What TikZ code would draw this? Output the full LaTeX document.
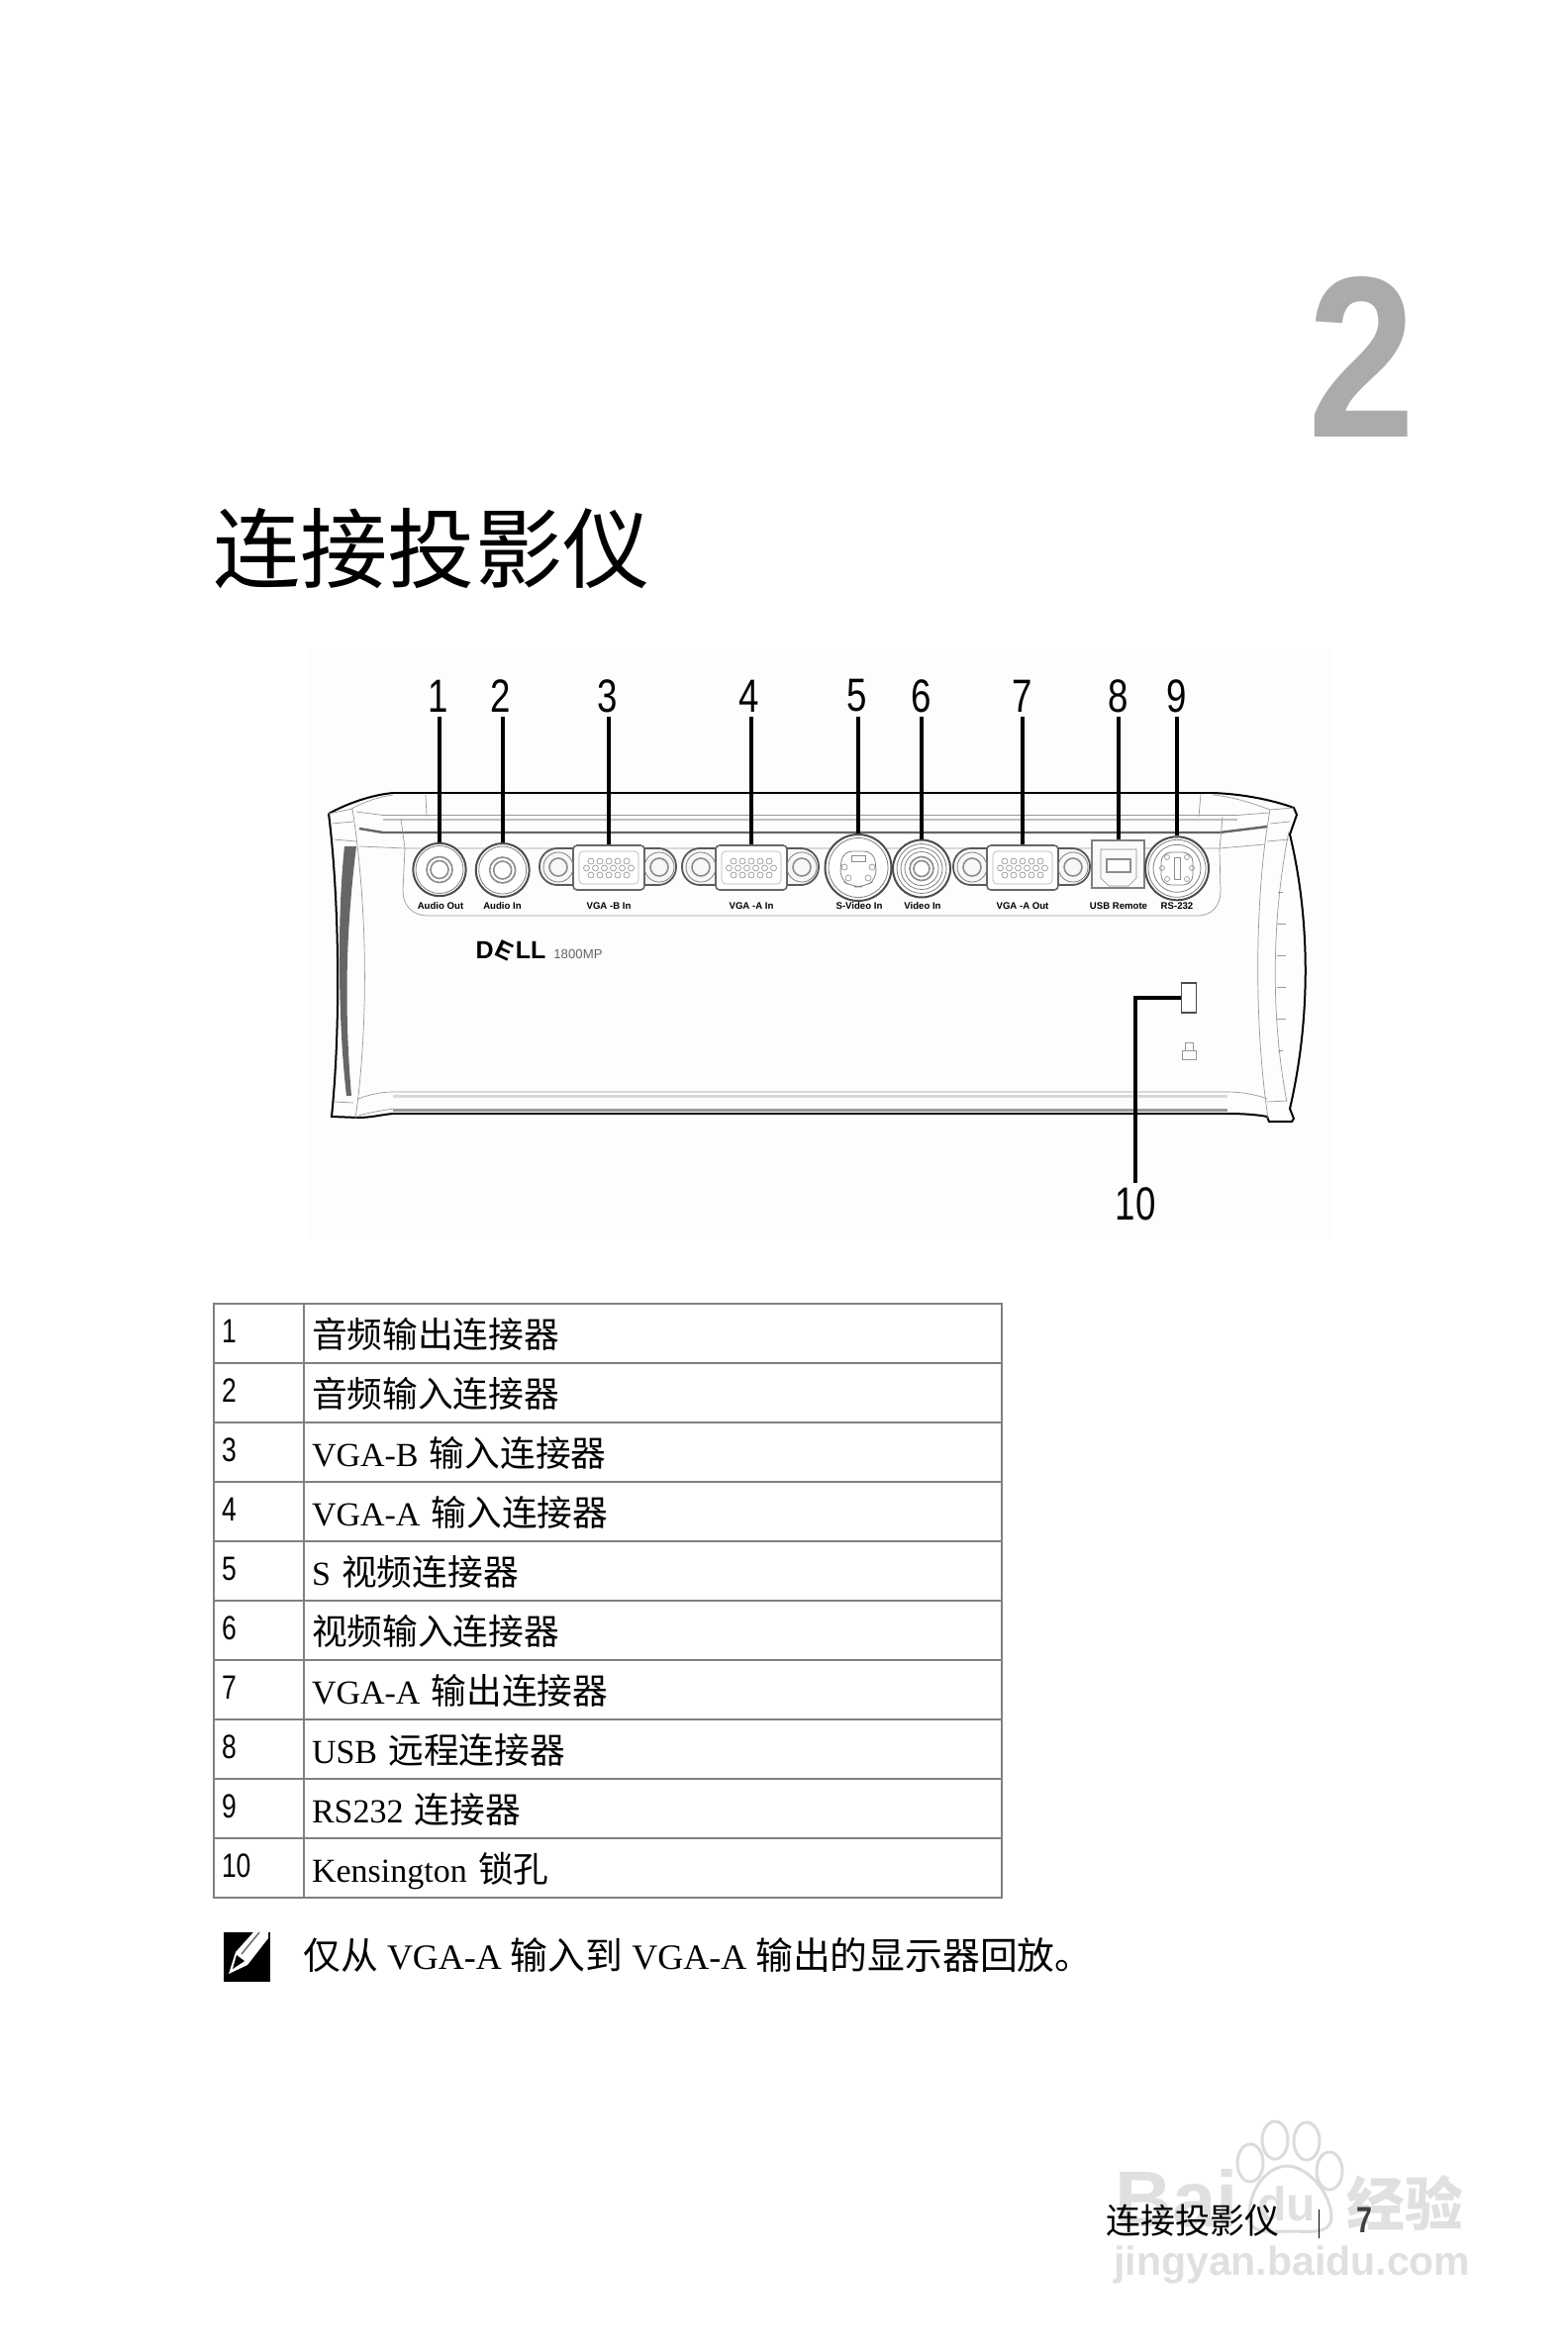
\documentclass[tikz,border=0pt]{standalone}
\usepackage{fontspec}
\usepackage{xcolor}
\usepackage{tikz}
\usetikzlibrary{positioning}
\setmainfont{Liberation Serif}
\setsansfont{Liberation Sans}
\newfontfamily\cjkfont[Scale=1.05]{Noto Sans CJK SC}
\newfontfamily\numfont[FakeStretch=0.78]{Liberation Sans}
\newfontfamily\chapfont[FakeStretch=0.84]{Liberation Sans}
\newcommand{\zh}[1]{{\cjkfont #1}}
\tikzset{
    num_label/.style = {inner sep=2pt, font=\numfont\fontsize{23.5}{26}\selectfont},
    port_text/.style = {inner sep=0pt, font=\sffamily\bfseries\fontsize{4.8}{5}\selectfont},
    leader/.style = {draw=black, line width=2pt},
    round_port/.style = {circle, draw=black!70, line width=1pt, fill=white, inner sep=0pt},
    ring/.style = {draw=black!50, line width=0.4pt},
    heavy_ring/.style = {draw=black!45, line width=0.8pt},
    pin/.style = {draw=black!45, line width=0.3pt},
    shell/.style = {draw=black, line width=0.6pt},
    heavy_shell/.style = {draw=black, line width=1pt},
    trim/.style = {draw=black!40, line width=0.35pt},
    flange/.style = {draw=black!65, line width=0.9pt, rounded corners=9pt, fill=black!3},
    vga_body/.style = {draw=black!60, line width=0.8pt, rounded corners=2pt, fill=white, minimum width=36pt, minimum height=22.5pt, inner sep=0pt},
    num_cell/.style = {draw=black!50, line width=1pt, outer sep=0pt, anchor=north west, minimum width=45.5pt, minimum height=30pt, text width=37.5pt, inner xsep=4pt, inner ysep=0pt, align=left, text height=10.5pt, text depth=0.7pt, font=\numfont\fontsize{17}{20}\selectfont},
    text_cell/.style = {draw=black!50, line width=1pt, outer sep=0pt, anchor=north west, minimum width=352.5pt, minimum height=30pt, text width=344.5pt, inner xsep=4pt, inner ysep=0pt, align=left, text height=15pt, text depth=0.5pt, font=\fontsize{17}{20}\selectfont},
    mark_text/.style = {inner sep=0pt, text=black!12, font=\sffamily\bfseries},
    mark_line/.style = {draw=black!14, line width=1.5pt}
}
\newcommand{\vgaport}[2]{%
    \draw[flange] (#2-70,857) rectangle (#2+68,894);
    \node[vga_body] (#1) at (#2,876.5) {};
    \draw[draw=black!30, line width=0.3pt, rounded corners=2pt] (#2-30,860) rectangle (#2+30,893);
    \draw[ring] (#2-51,876) circle (15);
    \draw[heavy_ring] (#2-51,876) circle (9);
    \draw[ring] (#2+51,876) circle (15);
    \draw[heavy_ring] (#2+51,876) circle (9);
    \foreach \px in {-18,-9,0,9,18} {
        \draw[pin] (#2+\px,870) circle (3);
        \draw[pin] (#2+\px,884) circle (3);
    }
    \foreach \px in {-22.5,-13.5,-4.5,4.5,13.5,22.5} {
        \draw[pin] (#2+\px,877) circle (3);
    }
}
\begin{document}
\begin{tikzpicture}[x=0.5pt, y=-0.5pt]
    \useasboundingbox (0,0) rectangle (1584,2376);
    \fill[black!0.6] (310,655) rectangle (1345,1252);

    % heading
    \node[inner sep=0pt, text=black!33, font=\chapfont\bfseries\fontsize{116}{120}\selectfont] (chapter) at (1376,361) {2};
    \node[inner sep=0pt, anchor=west, font=\cjkfont\fontsize{42}{48}\selectfont] (title) at (215,554) {连接投影仪};

    % projector body
    \draw[shell] (397,801) -- (1225,801);
    \draw[heavy_shell] (332,822) .. controls (350,812) and (375,803) .. (397,801);
    \draw[heavy_shell] (1225,801) .. controls (1255,802) and (1285,808) .. (1307,816) -- (1310,823) -- (1303,843)
        .. controls (1324,930) and (1324,1030) .. (1303,1120) -- (1307,1130) -- (1305,1133) -- (1282,1133) -- (1280,1128)
        .. controls (1270,1126) and (1255,1125) .. (1240,1125);
    \draw[shell] (1240,1125) -- (397,1125);
    \draw[heavy_shell] (397,1125) .. controls (385,1126) and (375,1129) .. (362,1129) -- (335,1128)
        .. controls (345,1030) and (342,900) .. (332,822);
    \fill[black!60] (348,855) -- (360,855) .. controls (352,920) and (346,1000) .. (355,1107) -- (350,1107)
        .. controls (342,1040) and (340,930) .. (348,855);
    \draw[trim] (356,817) .. controls (372,920) and (372,1040) .. (359,1130);
    \draw[trim] (1283,818) .. controls (1268,900) and (1266,1030) .. (1281,1130);
    \draw[trim] (1302,840) .. controls (1284,930) and (1284,1030) .. (1300,1113);
    % corners
    \draw[trim] (332,822) -- (356,817);
    \draw[trim] (335,832) -- (357,830);
    \draw[trim] (337,848) -- (360,850);
    \draw[trim] (337,1113) -- (357,1114);
    \draw[trim] (1283,818) -- (1307,816);
    \draw[trim] (1283,832) -- (1303,830);
    \draw[trim] (1280,850) -- (1302,848);
    \draw[trim] (1280,1113) -- (1300,1112);
    \draw[trim] (355,817) .. controls (368,810) and (382,805) .. (397,803);
    \draw[trim] (1225,803) .. controls (1245,805) and (1265,811) .. (1283,818);
    % long lines
    \draw[trim] (360,820) -- (387,823.5) -- (1250,823.5) -- (1282,821);
    \draw[draw=black!25, line width=1pt] (387,828) -- (1250,828);
    \draw[draw=black!60, line width=1.2pt] (363,837) -- (387,841) -- (1232,841) -- (1280,835);
    \draw[trim] (363,855) -- (409,857) -- (1232,857) -- (1277,853);
    \draw[draw=black!40, line width=1.5pt] (397,1121.5) -- (1240,1121.5);
    \draw[trim] (362,1110) .. controls (372,1106) and (385,1103) .. (397,1103) -- (1240,1103) .. controls (1255,1103) and (1270,1106) .. (1280,1110);
    \draw[draw=black!15, line width=1.5pt] (397,1107) -- (1240,1107);
    \draw[trim] (362,1127) .. controls (372,1124) and (385,1122) .. (397,1120);
    \draw[trim] (430,803) -- (431,825);
    \draw[trim] (1213,802) -- (1211,825);
    % recess
    \draw[trim] (405,827) -- (409,857) -- (407,900) .. controls (407,915) and (417,925) .. (432,925) -- (1210,925)
        .. controls (1224,925) and (1233,915) .. (1233,900) -- (1232,858) -- (1235,825);
    % side ticks
    \draw[trim] (1291,901) -- (1296,901);
    \draw[trim] (1290,933) -- (1299,933);
    \draw[trim] (1290,965) -- (1299,965);
    \draw[trim] (1290,997) -- (1299,997);
    \draw[trim] (1290,1029) -- (1299,1029);
    \draw[trim] (1291,1061) -- (1296,1061);

    % ports
    \node[round_port, minimum size=26.7pt] (p1) at (444,878.5) {};
    \draw[ring] (p1) circle (24);
    \draw[heavy_ring] (p1) circle (13) (p1) circle (9);
    \node[round_port, minimum size=27pt] (p2) at (507.7,879) {};
    \draw[ring] (p2) circle (24);
    \draw[heavy_ring] (p2) circle (13) (p2) circle (9);
    \vgaport{p3}{615}
    \vgaport{p4}{759}
    \node[round_port, minimum size=33.5pt] (p5) at (867,876.5) {};
    \draw[ring] (p5) circle (30);
    \draw[ring, rounded corners=5pt] (851,860) -- (883,860) -- (886,888) -- (873,896) -- (861,896) -- (848,888) -- cycle;
    \draw[pin] (860,864) rectangle (874,870);
    \draw[pin] (853,876) circle (3) (881,876) circle (3) (857,887) circle (3) (877,887) circle (3);
    \node[round_port, minimum size=29pt] (p6) at (931,877.5) {};
    \draw[ring] (p6) circle (25) (p6) circle (21) (p6) circle (17);
    \draw[heavy_ring] (p6) circle (12) (p6) circle (8);
    \vgaport{p7}{1033}
    \node[draw=black!50, line width=1pt, fill=black!2, inner sep=0pt, minimum width=26.3pt, minimum height=24pt] (p8) at (1129.5,873.3) {};
    \draw[pin] (1112,858) -- (1148,858) -- (1148,887) -- (1140,895) -- (1120,895) -- (1112,887) -- cycle;
    \draw[heavy_ring, fill=white] (1118,868) rectangle (1142,881);
    \node[round_port, minimum size=32pt] (p9) at (1189,877.3) {};
    \draw[ring] (p9) circle (29) (p9) circle (24);
    \draw[ring, rounded corners=5pt] (1173,861) rectangle (1205,894);
    \draw[pin] (1186,866) rectangle (1192,888);
    \draw[pin] (1179,866) circle (2.5) (1199,866) circle (2.5) (1174,877) circle (2.5) (1204,877) circle (2.5) (1179,888) circle (2.5) (1199,888) circle (2.5);

    % port captions
    \node[port_text] (t1) at (445,915) {Audio Out};
    \node[port_text] (t2) at (507.5,915) {Audio In};
    \node[port_text] (t3) at (615,915) {VGA -B In};
    \node[port_text] (t4) at (759,915) {VGA -A In};
    \node[port_text] (t5) at (868,915) {S-Video In};
    \node[port_text] (t6) at (932,915) {Video In};
    \node[port_text] (t7) at (1033,915) {VGA -A Out};
    \node[port_text] (t8) at (1130,915) {USB Remote};
    \node[port_text] (t9) at (1189,915) {RS-232};

    % brand
    \node[inner sep=0pt, font=\sffamily\bfseries\fontsize{12.5}{14}\selectfont] (logo) at (516,960) {D\rotatebox[origin=c]{-25}{E}LL};
    \node[inner sep=0pt, anchor=west, text=black!60, font=\sffamily\fontsize{6.6}{7}\selectfont] (model) at (559,964) {1800MP};

    % lock
    \node[draw=black!70, line width=0.7pt, fill=white, inner sep=0pt, minimum width=7.5pt, minimum height=15pt] (k10) at (1200.7,1008) {};
    \draw[trim] (1194,1061) rectangle (1208,1070);
    \draw[trim] (1197,1061) -- (1197,1053) -- (1205,1053) -- (1205,1061);

    % callouts
    \node[num_label] (n1) at (443,703) {1};
    \node[num_label] (n2) at (506,703) {2};
    \node[num_label] (n3) at (614,703) {3};
    \node[num_label] (n4) at (757,703) {4};
    \node[num_label] (n5) at (866,703) {5};
    \node[num_label] (n6) at (931,703) {6};
    \node[num_label] (n7) at (1033,703) {7};
    \node[num_label] (n8) at (1130,703) {8};
    \node[num_label] (n9) at (1189,703) {9};
    \node[num_label] (n10) at (1147,1216) {10};
    \draw[leader] (n1.south-|p1) -- (p1.north);
    \draw[leader] (n2.south-|p2) -- (p2.north);
    \draw[leader] (n3.south-|p3) -- (p3.north);
    \draw[leader] (n4.south-|p4) -- (p4.north);
    \draw[leader] (n5.south-|p5) -- (p5.north);
    \draw[leader] (n6.south-|p6) -- (p6.north);
    \draw[leader] (n7.south-|p7) -- (p7.north);
    \draw[leader] (n8.south-|p8) -- (p8.north);
    \draw[leader] (n9.south-|p9) -- (p9.north);
    \draw[leader] (n10.north) |- (k10.west);

    % table
    \node[num_cell] (r1) at (216,1317) {1};
    \node[text_cell, right=0pt of r1] (c1) {\zh{音频输出连接器}};
    \node[num_cell, below=0pt of r1] (r2) {2};
    \node[text_cell, right=0pt of r2] (c2) {\zh{音频输入连接器}};
    \node[num_cell, below=0pt of r2] (r3) {3};
    \node[text_cell, right=0pt of r3] (c3) {VGA-B \zh{输入连接器}};
    \node[num_cell, below=0pt of r3] (r4) {4};
    \node[text_cell, right=0pt of r4] (c4) {VGA-A \zh{输入连接器}};
    \node[num_cell, below=0pt of r4] (r5) {5};
    \node[text_cell, right=0pt of r5] (c5) {S \zh{视频连接器}};
    \node[num_cell, below=0pt of r5] (r6) {6};
    \node[text_cell, right=0pt of r6] (c6) {\zh{视频输入连接器}};
    \node[num_cell, below=0pt of r6] (r7) {7};
    \node[text_cell, right=0pt of r7] (c7) {VGA-A \zh{输出连接器}};
    \node[num_cell, below=0pt of r7] (r8) {8};
    \node[text_cell, right=0pt of r8] (c8) {USB \zh{远程连接器}};
    \node[num_cell, below=0pt of r8] (r9) {9};
    \node[text_cell, right=0pt of r9] (c9) {RS232 \zh{连接器}};
    \node[num_cell, below=0pt of r9] (r10) {10};
    \node[text_cell, right=0pt of r10] (c10) {Kensington \zh{锁孔}};

    % note
    \node[fill=black, inner sep=0pt, minimum width=23.75pt, minimum height=25pt] (icon) at (249.25,1977) {};
    \fill[white] (231,1994) -- (238,1972) -- (256,1952) -- (271,1952) -- (271,1958) -- (250,1985) -- cycle;
    \fill[black] (235,1989) -- (239,1975) -- (247,1981) -- cycle;
    \draw[black!55, line width=0.8pt] (244,1974) -- (262,1952);
    \node[inner sep=0pt, anchor=west, font=\fontsize{18}{20}\selectfont] (note) at (306,1975) {\zh{仅从} VGA-A \zh{输入到} VGA-A \zh{输出的显示器回放。}};

    % watermark
    \draw[mark_line] (1288,2162) ellipse (13 and 19);
    \draw[mark_line] (1320,2163) ellipse (13 and 19);
    \draw[mark_line] (1263,2185) ellipse (13 and 19);
    \draw[mark_line] (1343,2193) ellipse (13 and 19);
    \draw[mark_line] (1262,2240) .. controls (1262,2205) and (1285,2188) .. (1300,2188) .. controls (1320,2188) and (1345,2215) .. (1345,2240) .. controls (1345,2258) and (1320,2254) .. (1305,2254) .. controls (1285,2254) and (1262,2258) .. (1262,2240);
    \node[mark_text, anchor=west, font=\sffamily\bfseries\fontsize{40}{42}\selectfont] (mark_bai) at (1126,2221) {Bai};
    \node[mark_text, anchor=west, font=\sffamily\bfseries\fontsize{24}{26}\selectfont] (mark_du) at (1270,2226) {du};
    \node[mark_text, anchor=west, font=\cjkfont\bfseries\fontsize{28}{32}\selectfont] (mark_jy) at (1360,2225) {经验};
    \node[mark_text, anchor=west, font=\sffamily\bfseries\fontsize{20.5}{22}\selectfont] (mark_url) at (1125,2288) {jingyan.baidu.com};

    % footer
    \node[inner sep=0pt, anchor=west, font=\cjkfont\fontsize{16.7}{20}\selectfont] (foot) at (1117,2243) {连接投影仪};
    \node[inner sep=0pt, draw=black, line width=0.5pt, minimum height=14.5pt, minimum width=0pt] (bar) at (1332,2246.5) {};
    \node[inner sep=0pt, text=black!75, font=\numfont\bfseries\fontsize{18.5}{20}\selectfont] (page) at (1379,2243) {7};
\end{tikzpicture}
\end{document}
